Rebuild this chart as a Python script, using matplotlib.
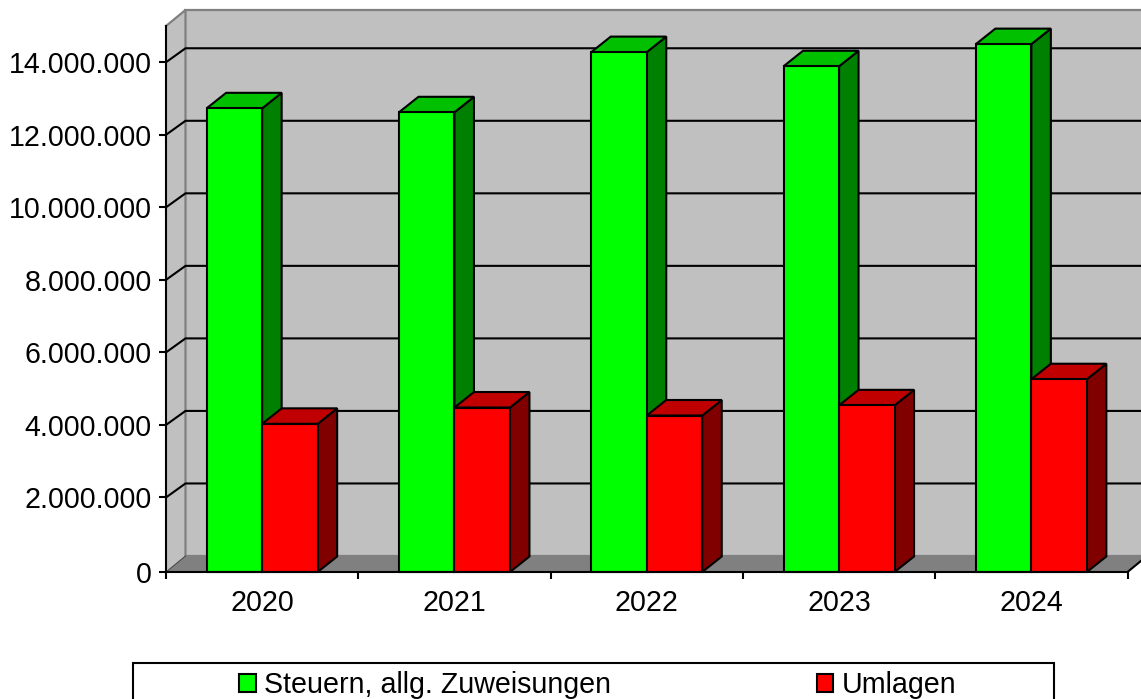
import matplotlib
matplotlib.use("Agg")
import matplotlib.pyplot as plt
from matplotlib.patches import Rectangle

years = ["2020", "2021", "2022", "2023", "2024"]
steuern = [12730000, 12620000, 14280000, 13890000, 14500000]
umlagen = [4030000, 4480000, 4260000, 4540000, 5260000]
y_ticks = [2000000, 4000000, 6000000, 8000000, 10000000, 12000000, 14000000]
y_labels = ["2.000.000", "4.000.000", "6.000.000", "8.000.000", "10.000.000", "12.000.000", "14.000.000"]

plt.rcParams["font.family"] = ["Liberation Sans", "DejaVu Sans"]

W, H = 1141, 699
fig = plt.figure(figsize=(W / 100, H / 100), dpi=100)
ax = fig.add_axes([166 / W, 1 - 572 / H, (1127.5 - 166) / W, (572 - 26) / H])
ax.patch.set_visible(False)

# one unit on x is one category, y is 36.25 px per million
px_x = 5 / (1127.5 - 166)
px_y = 1e6 / 36.25
y_min = -2 * px_y
y_max = 15000000
ax.set_xlim(-0.5, 4.5)
ax.set_ylim(y_min, y_max)

dx = 19.5 * px_x
dy_grid = 14 * px_y
dy_bar = 15.5 * px_y
dy_wall = 16 * px_y
x0, x1 = -0.5, 4.5
line = 1.5

# walls and floor
ax.fill([x0, x0 + dx, x0 + dx, x0], [y_min, y_min + dy_wall, y_max + dy_wall, y_max],
        color="#c0c0c0", clip_on=False, zorder=1, lw=0)
ax.fill([x0 + dx, x1 + dx, x1 + dx, x0 + dx], [y_min + dy_wall, y_min + dy_wall, y_max + dy_wall, y_max + dy_wall],
        color="#c0c0c0", clip_on=False, zorder=1, lw=0)
ax.fill([x0, x1, x1 + dx, x0 + dx], [y_min, y_min, y_min + dy_wall, y_min + dy_wall],
        color="#808080", clip_on=False, zorder=1.5, lw=0)
ax.plot([x0, x0 + dx, x0 + dx, x1 + dx], [y_max, y_max + dy_wall, y_min + dy_wall, y_min + dy_wall],
        color="#808080", lw=1.6, clip_on=False, zorder=2)
ax.plot([x0 + dx, x1 + dx], [y_max + dy_wall, y_max + dy_wall], color="#808080", lw=1.6, clip_on=False, zorder=2)
ax.plot([x0, x0 + dx], [y_min, y_min + dy_wall], color="#404040", lw=0.7, clip_on=False, zorder=2)
ax.plot([x1, x1 + dx], [y_min, y_min + dy_wall], color="black", lw=line, clip_on=False, zorder=2)

# gridlines on the back wall, with the slanted bit on the left wall
for t in y_ticks:
    ax.plot([x0, x0 + dx, x1 + dx], [t, t + dy_grid, t + dy_grid], color="black", lw=line,
            clip_on=False, zorder=3, solid_joinstyle="miter")

bar_w = 55.5 * px_x


def draw_bar(left, value, front, side, top, z):
    right = left + bar_w
    ax.fill([right, right + dx, right + dx, right],
            [y_min, y_min + dy_bar, value + dy_bar, value],
            facecolor=side, edgecolor="black", lw=line, clip_on=False, zorder=z)
    ax.fill([left, left + dx, right + dx, right],
            [value, value + dy_bar, value + dy_bar, value],
            facecolor=top, edgecolor="black", lw=line, clip_on=False, zorder=z)
    ax.bar(left, value - y_min, bar_w, bottom=y_min, align="edge", facecolor=front,
           edgecolor="black", lw=line, clip_on=False, zorder=z + 0.1)


for i in range(len(years)):
    draw_bar(i - bar_w, steuern[i], "#00ff00", "#008000", "#00c000", 4 + i)
    draw_bar(i, umlagen[i], "#ff0000", "#800000", "#c00000", 4.5 + i)

for name in ["top", "right"]:
    ax.spines[name].set_visible(False)
for name in ["left", "bottom"]:
    ax.spines[name].set_linewidth(line)
    ax.spines[name].set_zorder(20)

ax.set_yticks([y_min] + y_ticks, ["0"] + y_labels)
ax.tick_params(axis="y", length=4.7, width=line, labelsize=20.6, pad=5.5)
ax.set_xticks([x0 + i for i in range(6)], [""] * 6)
ax.set_xticks(range(len(years)), years, minor=True)
ax.tick_params(axis="x", which="major", length=5, width=line)
ax.tick_params(axis="x", which="minor", length=0, labelsize=20.6, pad=12.5)

# legend box runs off the bottom of the image
fig.add_artist(Rectangle((133 / W, 1 - 705 / H), (1054 - 133) / W, (705 - 663) / H,
                         transform=fig.transFigure, facecolor="white", edgecolor="black", lw=1.5))
handles = [Rectangle((0, 0), 1, 1, facecolor="#00ff00", edgecolor="black", lw=1.5),
           Rectangle((0, 0), 1, 1, facecolor="#ff0000", edgecolor="black", lw=1.5)]
fig.legend(handles, ["Steuern, allg. Zuweisungen", "Umlagen"], ncol=2, frameon=False,
           loc="center left", bbox_to_anchor=(239 / W, 1 - 685 / H), borderpad=0, borderaxespad=0,
           fontsize=20.6, handlelength=0.59, handleheight=0.59, handletextpad=0.3, columnspacing=7.17)

fig.savefig("out.png", dpi=100)
